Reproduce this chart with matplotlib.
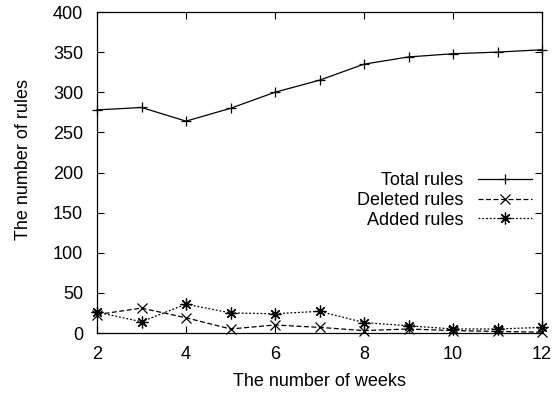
import matplotlib
matplotlib.use("Agg")
import matplotlib.pyplot as plt

plt.rcParams['font.family'] = ['Liberation Sans', 'DejaVu Sans']

# values
weeks = [2, 3, 4, 5, 6, 7, 8, 9, 10, 11, 12]
total_rules = [278, 281, 264, 280, 300, 315, 335, 344, 348, 350, 353]
deleted_rules = [23, 31, 19, 5, 10, 7, 3, 5, 3, 2, 1]
added_rules = [26, 14, 36, 25, 24, 27, 13, 9, 5, 5, 7]

fs = 13

fig = plt.figure(figsize=(5.54, 3.96), dpi=100)
ax = fig.add_axes([97 / 554, 1 - 333 / 396, 445 / 554, 321 / 396])

asterisk = (8, 2, 0)
ax.plot(weeks, total_rules, color="black", lw=0.9, ls="-", marker="+",
        ms=7.5, mew=0.9, label="Total rules", clip_on=False)
ax.plot(weeks, deleted_rules, color="black", lw=0.9, ls=(0, (4, 2)),
        marker="x", ms=7, mew=0.9, label="Deleted rules", clip_on=False)
ax.plot(weeks, added_rules, color="black", lw=0.9, ls=(0, (1.5, 1.5)),
        marker=asterisk, ms=8.5, mew=0.9, label="Added rules", clip_on=False)

ax.set_xlim(2, 12)
ax.set_ylim(0, 400)
ax.set_xticks(range(2, 13, 2))
ax.set_yticks(range(0, 401, 50))
ax.tick_params(direction="in", top=True, right=True, length=5, width=0.8,
               labelsize=fs)
ax.tick_params(axis="y", pad=10)
ax.tick_params(axis="x", pad=9.5)
for s in ax.spines.values():
    s.set_linewidth(0.9)

ax.set_xlabel("The number of weeks", fontsize=fs)
ax.set_ylabel("The number of rules", fontsize=fs)
ax.xaxis.set_label_coords(0.501, -0.125)
ax.yaxis.set_label_coords(-0.146, 0.54)

ax.legend(loc="upper right", bbox_to_anchor=(532 / 554, 1 - 172 / 396),
          bbox_transform=fig.transFigure, frameon=False, markerfirst=False,
          fontsize=fs, handlelength=3.0, handletextpad=0.8,
          labelspacing=0.16, borderpad=0, borderaxespad=0)

fig.savefig("out.png", dpi=100)
